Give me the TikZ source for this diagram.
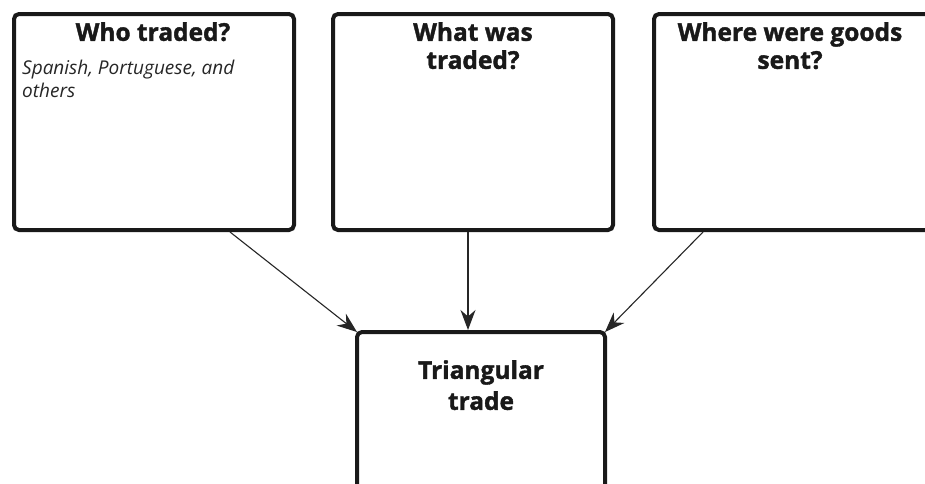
\documentclass[tikz,border=0pt]{standalone}
\usepackage{fontspec}
\setmainfont{Open Sans}
\newfontfamily\headfont{Open Sans}[BoldFeatures={FakeBold=1.5}]
\newfontfamily\handfont{Open Sans}
\usetikzlibrary{arrows.meta}
\begin{document}
\begin{tikzpicture}[x=1pt,y=-1pt,
  box/.style={draw=black!90,line width=4pt,rounded corners=5pt,inner sep=0pt,outer sep=0pt,minimum width=280pt,minimum height=216pt},
  head/.style={anchor=north,align=center,font=\headfont\bfseries\fontsize{24.5}{28}\selectfont,text=black!90,inner sep=0pt},
  hand/.style={anchor=north west,align=left,font=\handfont\itshape\fontsize{19}{23}\selectfont,text=black!85,inner sep=0pt},
  conn/.style={line width=1.1pt,draw=black!85,-{Stealth[length=20pt,width=15pt]}}]
\clip (0,0) rectangle (925,483);
\fill[white] (0,0) rectangle (925,483);
\node[box] (b1) at (154,122) {};
\node[box] (b2) at (473,122) {};
\node[box] (b3) at (794,122) {};
\node[box,minimum width=248pt,minimum height=200pt] (tt) at (481,432) {};
\node[head] (h1) at (153,22) {Who traded?};
\node[head] (h2) at (473,22) {What was\\traded?};
\node[head] (h3) at (790,22) {Where were goods\\sent?};
\node[head,font=\headfont\bfseries\fontsize{24.5}{31}\selectfont] (h4) at (481,360) {Triangular\\trade};
\node[hand] (t1) at (22,60) {Spanish, Portuguese, and\\others};
\coordinate (s1) at (230,232);
\coordinate (s2) at (468,232);
\coordinate (s3) at (703,232);
\coordinate (e2) at (468,330);
\draw[conn] (s1) -- (tt.north west);
\draw[conn] (s2) -- (e2);
\draw[conn] (s3) -- (tt.north east);
\end{tikzpicture}
\end{document}
